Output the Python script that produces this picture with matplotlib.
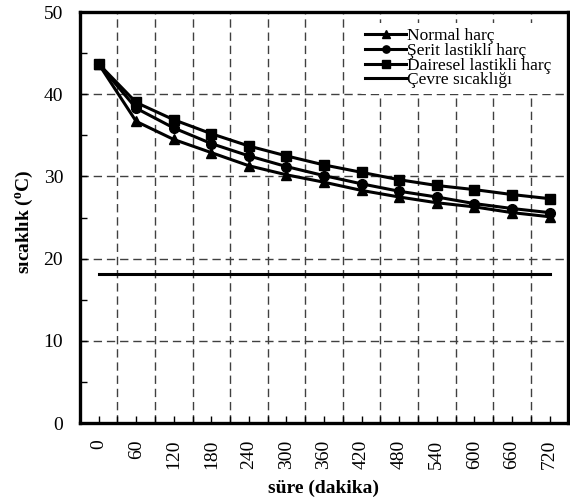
import matplotlib.pyplot as plt
from matplotlib.ticker import MultipleLocator, FixedLocator

plt.rcParams["font.family"] = ["Liberation Serif", "DejaVu Serif"]
plt.rcParams["mathtext.fontset"] = "custom"
plt.rcParams["mathtext.rm"] = "Liberation Serif"
plt.rcParams["mathtext.bf"] = "Liberation Serif:bold"

# veriler (okunan degerler)
sure = [0, 60, 120, 180, 240, 300, 360, 420, 480, 540, 600, 660, 720]
normal = [43.7, 36.7, 34.5, 32.9, 31.3, 30.2, 29.3, 28.3, 27.5, 26.8, 26.3, 25.6, 25.1]
serit = [43.7, 38.3, 35.9, 34.0, 32.5, 31.2, 30.1, 29.1, 28.2, 27.5, 26.7, 26.1, 25.6]
dairesel = [43.7, 39.0, 36.9, 35.2, 33.7, 32.5, 31.4, 30.5, 29.6, 28.9, 28.4, 27.8, 27.3]
cevre = [18.1] * len(sure)

x = list(range(len(sure)))

fig = plt.figure(figsize=(5.7, 5.03), dpi=100)
ax = fig.add_axes([0.140, 0.159, 0.857, 0.817])

ax.plot(x, normal, color="black", lw=2.2, marker="^", ms=7.5, label="Normal harç", zorder=3)
ax.plot(x, serit, color="black", lw=2.2, marker="o", ms=7, label="Şerit lastikli harç", zorder=3)
ax.plot(x, dairesel, color="black", lw=2.2, marker="s", ms=7, label="Dairesel lastikli harç", zorder=3)
ax.plot(x, cevre, color="black", lw=2.2, label="Çevre sıcaklığı", zorder=3)

ax.set_xlim(-0.5, len(sure) - 0.5)
ax.set_ylim(0, 50)

# x ekseni: kategori etiketleri, sinirlarda izgara
ax.xaxis.set_major_locator(FixedLocator(x))
ax.set_xticklabels([str(s) for s in sure], rotation=90, fontsize=14)
ax.xaxis.set_minor_locator(FixedLocator([i + 0.5 for i in range(-1, len(sure))]))
ax.grid(True, which="minor", axis="x", color="0.25", lw=1, linestyle=(0, (6, 3.5)))

ax.yaxis.set_major_locator(MultipleLocator(10))
ax.yaxis.set_minor_locator(MultipleLocator(5))
ax.grid(True, which="major", axis="y", color="0.25", lw=1, linestyle=(0, (6, 3.5)))
ax.tick_params(which="both", direction="in", length=5, width=1, top=False, right=False)
ax.tick_params(axis="y", which="major", labelsize=14, pad=12)
ax.tick_params(axis="x", which="major", pad=12)

for sp in ax.spines.values():
    sp.set_linewidth(2.4)

fig.text(0.568, 0.03, "süre (dakika)", fontsize=14, fontweight="bold", ha="center", va="center")
fig.text(0.044, 0.56, r"sıcaklık ($^{\mathbf{o}}$C)", fontsize=14, fontweight="bold",
         rotation=90, ha="center", va="center")

leg = ax.legend(loc="upper left", bbox_to_anchor=(0.555, 0.995), frameon=True, fontsize=12.5,
                labelspacing=-0.08, handlelength=2.4, handletextpad=0.05, borderpad=0.3,
                markerscale=0.75)
leg.get_frame().set_edgecolor("none")
leg.get_frame().set_facecolor("white")
leg.get_frame().set_alpha(1)

plt.savefig("out.png", dpi=100)
